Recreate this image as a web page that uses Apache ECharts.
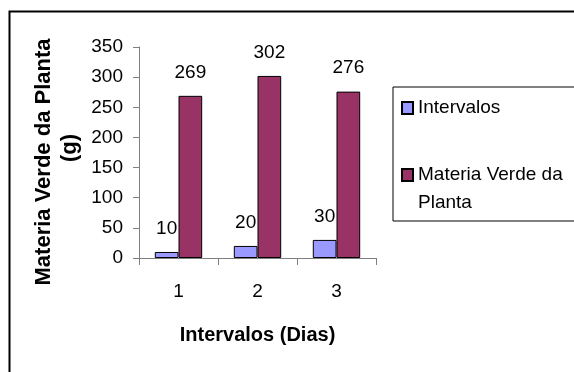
<!DOCTYPE html>
<html>
<head>
<meta charset="utf-8">
<script src="https://cdn.jsdelivr.net/npm/echarts@6/dist/echarts.min.js"></script>
<style>
  html, body { margin: 0; padding: 0; background: #fff; }
  #chart { width: 574px; height: 372px; }
</style>
</head>
<body>
<div id="chart"></div>
<script>
// Days on the category axis
const categories = ['1', '2', '3'];
// Interval values (days)
const intervalos = [10, 20, 30];
// Fresh plant matter (g)
const materiaVerde = [269, 302, 276];
// Value-axis ticks
const yTicks = { min: 0, max: 350, interval: 50 };

const SERIES_A = 'Intervalos';
const SERIES_B = 'Materia Verde da Planta';

const FONT = '"Liberation Sans", Arial, sans-serif';
const axisGray = '#7f7f7f';

const chart = echarts.init(document.getElementById('chart'), null, { renderer: 'canvas' });

const labelStyle = {
  show: true,
  position: 'top',
  distance: 14,
  color: '#000',
  fontFamily: FONT,
  fontSize: 19
};

chart.setOption({
  animation: false,
  backgroundColor: '#fff',
  textStyle: { fontFamily: FONT, color: '#000' },
  grid: { left: 139, top: 47, width: 237, height: 211, containLabel: false },
  xAxis: {
    type: 'category',
    data: categories,
    name: 'Intervalos (Dias)',
    nameLocation: 'middle',
    nameGap: 67,
    nameTextStyle: { fontFamily: FONT, fontSize: 20, fontWeight: 'bold', color: '#000' },
    axisLine: { lineStyle: { color: axisGray, width: 1 } },
    axisTick: { show: true, alignWithLabel: false, interval: 0, length: 7, lineStyle: { color: axisGray } },
    axisLabel: { margin: 24, fontFamily: FONT, fontSize: 19, color: '#000' }
  },
  yAxis: {
    type: 'value',
    min: yTicks.min,
    max: yTicks.max,
    interval: yTicks.interval,
    splitLine: { show: false },
    axisLine: { show: true, lineStyle: { color: axisGray, width: 1 } },
    axisTick: { show: true, length: 6, lineStyle: { color: axisGray } },
    axisLabel: { margin: 16, fontFamily: FONT, fontSize: 19, color: '#000' }
  },
  legend: {
    orient: 'vertical',
    left: 393,
    top: 87,
    padding: [7, 60, 4, 8],
    itemWidth: 11,
    itemHeight: 12,
    itemGap: 11,
    borderColor: '#000',
    borderWidth: 1,
    borderRadius: 0,
    backgroundColor: '#fff',
    selectedMode: false,
    icon: 'rect',
    textStyle: { fontFamily: FONT, fontSize: 19, lineHeight: 28, color: '#000' },
    data: [SERIES_A, SERIES_B],
    // the long name wraps; a leading blank line keeps the marker beside its first line
    formatter: name => name === SERIES_B ? '\nMateria Verde da\nPlanta' : name
  },
  graphic: [
    {
      type: 'rect',
      shape: { x: 9.5, y: 11.5, width: 700, height: 500 },
      style: { fill: 'none', stroke: '#000', lineWidth: 2 },
      silent: true,
      z: 100
    },
    {
      type: 'text',
      x: 43.5,
      y: 162,
      rotation: Math.PI / 2,
      style: {
        text: 'Materia Verde da Planta',
        fontFamily: FONT,
        fontSize: 22,
        fontWeight: 'bold',
        fill: '#000',
        align: 'center',
        verticalAlign: 'middle'
      }
    },
    {
      type: 'text',
      x: 70,
      y: 148,
      rotation: Math.PI / 2,
      style: {
        text: '(g)',
        fontFamily: FONT,
        fontSize: 22,
        fontWeight: 'bold',
        fill: '#000',
        align: 'center',
        verticalAlign: 'middle'
      }
    }
  ],
  series: [
    {
      name: SERIES_A,
      type: 'bar',
      data: intervalos,
      barGap: '0%',
      barCategoryGap: '40%',
      itemStyle: { color: '#9999FF', borderColor: '#000', borderWidth: 1 },
      label: labelStyle
    },
    {
      name: SERIES_B,
      type: 'bar',
      data: materiaVerde,
      barGap: '0%',
      barCategoryGap: '40%',
      itemStyle: { color: '#993366', borderColor: '#000', borderWidth: 1 },
      label: labelStyle
    }
  ]
});
</script>
</body>
</html>
